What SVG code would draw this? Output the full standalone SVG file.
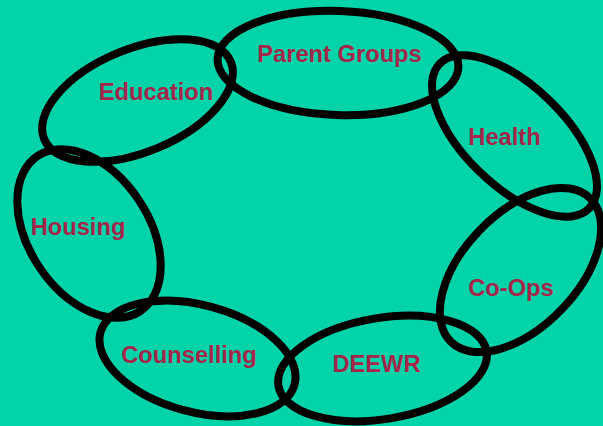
<svg xmlns="http://www.w3.org/2000/svg" width="603" height="426" viewBox="0 0 603 426">
<style>
.ring{fill:none;stroke:#000;stroke-width:8}
.lbl{font-family:"Liberation Sans",Arial,sans-serif;font-weight:bold;font-size:23.7px;fill:#A5264B;text-anchor:middle}
</style>
<rect width="603" height="426" fill="#02D3A9"/>
<g id="education"><ellipse class="ring" cx="137.5" cy="100.5" rx="101" ry="51.5" transform="rotate(-22.5 137.5 100.5)"/><text class="lbl" x="156" y="99.5">Education</text></g>
<g id="parent-groups"><ellipse class="ring" cx="338" cy="63" rx="120.5" ry="52" transform="rotate(2 338 63)"/><text class="lbl" x="339.5" y="62">Parent Groups</text></g>
<g id="health"><ellipse class="ring" cx="514.5" cy="136" rx="104" ry="50" transform="rotate(44 514.5 136)"/><text class="lbl" x="504.5" y="145">Health</text></g>
<g id="co-ops"><ellipse class="ring" cx="520.5" cy="270" rx="100" ry="57" transform="rotate(-46 520.5 270)"/><text class="lbl" x="511" y="296">Co-Ops</text></g>
<g id="deewr"><ellipse class="ring" cx="382.5" cy="368.5" rx="105.5" ry="50.5" transform="rotate(-9.4 382.5 368.5)"/><text class="lbl" x="376.5" y="372">DEEWR</text></g>
<g id="counselling"><ellipse class="ring" cx="197.5" cy="358.5" rx="100.5" ry="53.5" transform="rotate(15 197.5 358.5)"/><text class="lbl" x="189" y="363">Counselling</text></g>
<g id="housing"><ellipse class="ring" cx="89" cy="233.5" rx="93" ry="60" transform="rotate(56.5 89 233.5)"/><text class="lbl" x="78" y="235">Housing</text></g>
<g id="connectors"></g>
</svg>
